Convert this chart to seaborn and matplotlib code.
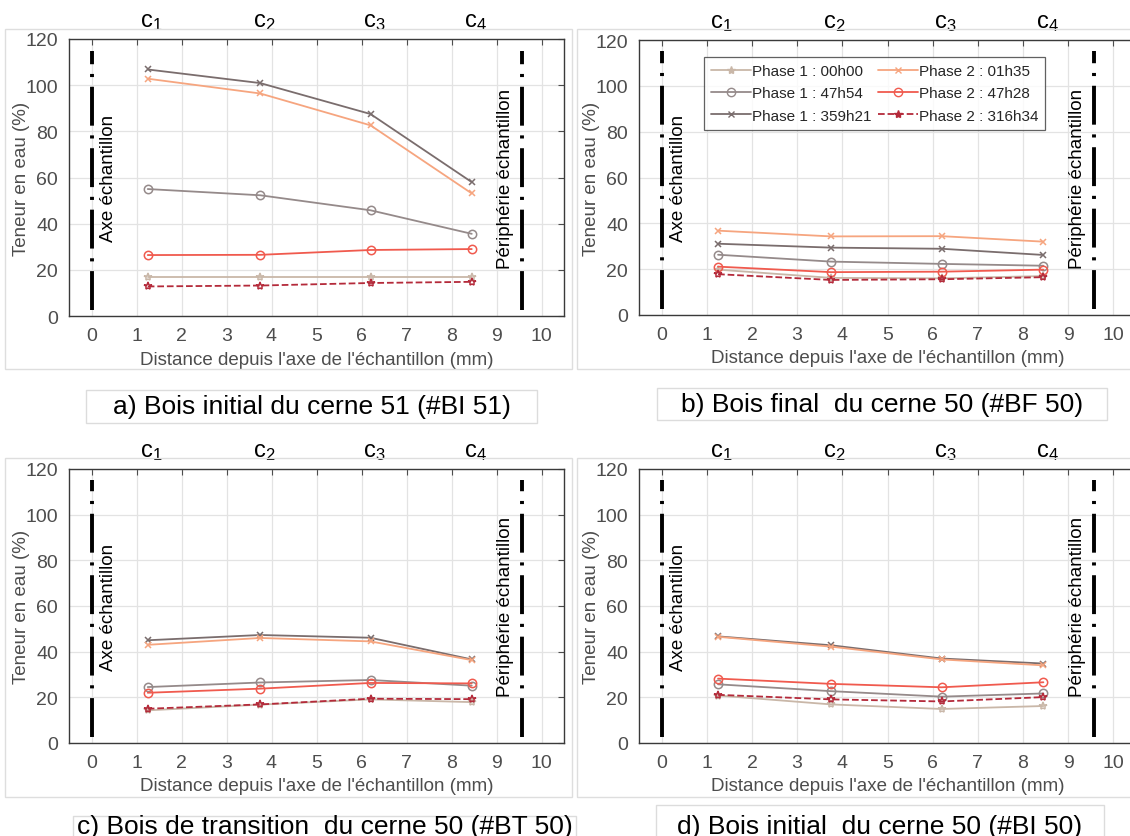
import numpy as np
import pandas as pd
import seaborn as sns
import matplotlib.pyplot as plt
from matplotlib.patches import Rectangle
from matplotlib.lines import Line2D

# %% data
x_pos = [1.25, 3.75, 6.2, 8.45]
c_labels = ['c_1', 'c_2', 'c_3', 'c_4']
series_labels = ['Phase 1 : 00h00', 'Phase 1 : 47h54', 'Phase 1 : 359h21',
                 'Phase 2 : 01h35', 'Phase 2 : 47h28', 'Phase 2 : 316h34']

# panel a) Bois initial du cerne 51
a_p1_00 = [17.0, 17.0, 17.0, 17.0]
a_p1_47 = [55.0, 52.3, 45.8, 35.6]
a_p1_359 = [106.8, 100.9, 87.5, 58.0]
a_p2_01 = [102.8, 96.4, 82.6, 53.1]
a_p2_47 = [26.4, 26.5, 28.6, 29.0]
a_p2_316 = [12.8, 13.2, 14.3, 14.8]

# panel b) Bois final du cerne 50
b_p1_00 = [19.8, 16.2, 16.0, 17.0]
b_p1_47 = [26.3, 23.3, 22.3, 21.5]
b_p1_359 = [31.1, 29.4, 28.9, 26.2]
b_p2_01 = [36.8, 34.3, 34.4, 32.0]
b_p2_47 = [21.1, 18.7, 18.9, 19.8]
b_p2_316 = [17.8, 15.3, 15.6, 16.5]

# panel c) Bois de transition du cerne 50
c_p1_00 = [14.3, 16.8, 19.1, 17.9]
c_p1_47 = [24.5, 26.5, 27.6, 25.1]
c_p1_359 = [45.0, 47.3, 46.1, 36.6]
c_p2_01 = [43.0, 46.0, 44.5, 36.3]
c_p2_47 = [22.0, 23.8, 26.3, 26.1]
c_p2_316 = [15.0, 16.9, 19.4, 19.2]

# panel d) Bois initial du cerne 50
d_p1_00 = [20.8, 16.9, 14.9, 16.2]
d_p1_47 = [25.7, 22.7, 20.3, 21.7]
d_p1_359 = [46.7, 42.8, 37.0, 34.8]
d_p2_01 = [46.5, 42.2, 36.6, 34.0]
d_p2_47 = [28.2, 25.9, 24.4, 26.6]
d_p2_316 = [21.1, 19.1, 18.2, 20.1]

captions = ['a) Bois initial du cerne 51 (#BI 51)',
            'b) Bois final  du cerne 50 (#BF 50)',
            'c) Bois de transition  du cerne 50 (#BT 50)',
            'd) Bois initial  du cerne 50 (#BI 50)']

panels = [
    [a_p1_00, a_p1_47, a_p1_359, a_p2_01, a_p2_47, a_p2_316],
    [b_p1_00, b_p1_47, b_p1_359, b_p2_01, b_p2_47, b_p2_316],
    [c_p1_00, c_p1_47, c_p1_359, c_p2_01, c_p2_47, c_p2_316],
    [d_p1_00, d_p1_47, d_p1_359, d_p2_01, d_p2_47, d_p2_316],
]

# %% styles
colors = ['#c9b7a8', '#958a8a', '#7a6d6d', '#f6a57f', '#f05a4e', '#b42a3a']
markers = ['*', 'o', 'x', 'x', 'o', '*']
msizes = [6, 6, 4, 4, 6, 6]
lstyles = ['-', '-', '-', '-', '-', '--']

sns.set_style('white')
plt.rcParams['font.family'] = ['Liberation Sans', 'DejaVu Sans']
tick_col = '#4d4d4d'

fig = plt.figure(figsize=(11.3, 8.37), dpi=100)
W, H = 1130, 837

def box(px_l, px_t, px_r, px_b):
    return [px_l / W, 1 - px_b / H, (px_r - px_l) / W, (px_b - px_t) / H]

ax_pos = [box(69, 40, 564, 317), box(639, 41, 1136, 316),
          box(69, 470, 564, 744), box(639, 470, 1136, 744)]
frames = [(5, 30, 572, 370), (577, 30, 1135, 370),
          (5, 459, 572, 798), (577, 459, 1135, 798)]
cap_boxes = [(86, 391, 537, 424), (657, 389, 1107, 421),
             (73, 817, 576, 845), (656, 806, 1104, 845)]

# panel frames (light grey figure borders)
for (l, t, r, b) in frames:
    fig.add_artist(Rectangle((l / W, 1 - b / H), (r - l) / W, (b - t) / H,
                             transform=fig.transFigure, fill=False,
                             edgecolor='#dedede', linewidth=1))

for i, pos in enumerate(ax_pos):
    ax = fig.add_axes(pos)
    for j, vals in enumerate(panels[i]):
        sns.lineplot(x=x_pos, y=vals, ax=ax, color=colors[j], marker=markers[j],
                     markersize=msizes[j], markerfacecolor='none',
                     markeredgecolor=colors[j], markeredgewidth=1.1,
                     linestyle=lstyles[j], linewidth=1.3, zorder=3)
    # sample axis and periphery lines
    for xv in [0, 9.57]:
        ax.plot([xv, xv], [2.5, 115], color='black', linewidth=2.8,
                linestyle=(0, (10, 2.5, 0.8, 2.5)), zorder=4)
    ax.text(0.38, 60, 'Axe échantillon', rotation=90, ha='center', va='center',
            fontsize=13.5, color='black')
    ax.text(9.2, 60, 'Périphérie échantillon', rotation=90, ha='center', va='center',
            fontsize=13.5, color='black')
    for xv, lab in zip(x_pos, c_labels):
        ax.text(xv + 0.08, 1.025, '$\\mathregular{' + lab + '}$',
                transform=ax.get_xaxis_transform(),
                ha='center', va='bottom', fontsize=17, color='black')

    ax.set_xlim(-0.5, 10.5)
    ax.set_ylim(0, 120)
    ax.set_xticks(range(0, 11))
    ax.set_yticks(range(0, 121, 20))
    ax.grid(True, color='#e3e3e3', linewidth=0.9)
    ax.tick_params(direction='in', top=True, right=True, length=4,
                   labelsize=14, colors=tick_col, labelcolor=tick_col, pad=8)
    for sp in ax.spines.values():
        sp.set_color('#3a3a3a')
        sp.set_linewidth(1.0)
    ax.set_xlabel("Distance depuis l'axe de l'échantillon (mm)", fontsize=13.5,
                  color=tick_col)
    ax.xaxis.set_label_coords(0.5, -0.125)
    ax.set_ylabel('Teneur en eau (%)', fontsize=13.5, color=tick_col)
    ax.yaxis.set_label_coords(-0.078, 0.5)

    if i == 1:
        handles = [Line2D([], [], color=colors[j], marker=markers[j], markersize=msizes[j],
                          markerfacecolor=colors[j] if markers[j] == '*' else 'none',
                          markeredgecolor=colors[j], linestyle=lstyles[j], linewidth=1.3)
                   for j in range(6)]
        leg = ax.legend(handles, series_labels, ncol=2, loc='upper left',
                        bbox_to_anchor=(0.131, 0.938), borderaxespad=0,
                        fontsize=11, frameon=True,
                        fancybox=False, handlelength=2.6, handletextpad=0.1,
                        columnspacing=0.4, labelspacing=0.55, borderpad=0.45)
        leg.get_frame().set_edgecolor('#3a3a3a')
        leg.get_frame().set_linewidth(0.9)

# captions with light boxes
for cap, (l, t, r, b) in zip(captions, cap_boxes):
    fig.add_artist(Rectangle((l / W, 1 - b / H), (r - l) / W, (b - t) / H,
                             transform=fig.transFigure, fill=False,
                             edgecolor='#dcdcdc', linewidth=1))
    cy = (t + b) / 2 if b < 840 else 827
    fig.text((l + r) / 2 / W, 1 - cy / H, cap, ha='center', va='center',
             fontsize=19, color='black')

fig.savefig('out.png', dpi=100)
